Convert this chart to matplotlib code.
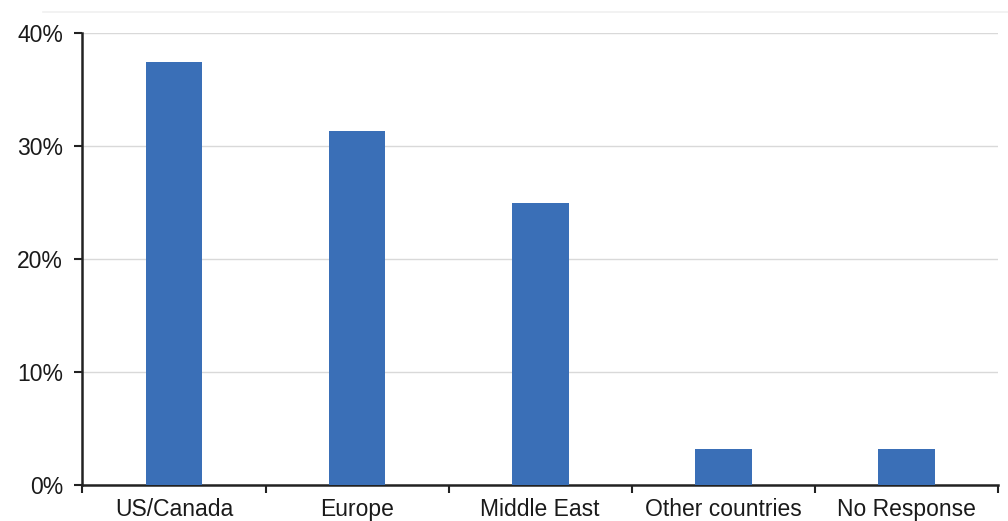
import matplotlib
matplotlib.use("Agg")
import matplotlib.pyplot as plt
from matplotlib.lines import Line2D
from matplotlib.ticker import FuncFormatter, FixedLocator

categories = ["US/Canada", "Europe", "Middle East", "Other countries", "No Response"]
shares = [37.4, 31.3, 25.0, 3.2, 3.2]
y_ticks = [0, 10, 20, 30, 40]

plt.rcParams["font.family"] = ["Liberation Sans", "DejaVu Sans"]

fig = plt.figure(figsize=(10.08, 5.21), dpi=100)
ax = fig.add_axes([0.0818, 0.069, 0.9082, 0.8677])

# faint frame line along the top of the chart area
fig.add_artist(Line2D([0.043, 1.0], [0.977, 0.977], color="#f0f0f0", linewidth=1.2))

x = list(range(len(categories)))
ax.bar(x, shares, width=0.31, color="#3A6FB7", zorder=3)

ax.set_xlim(-0.5, len(categories) - 0.5)
ax.set_ylim(0, 40)
ax.set_yticks(y_ticks)
ax.yaxis.set_major_formatter(FuncFormatter(lambda v, _: f"{v:.0f}%"))
ax.grid(axis="y", color="#d9d9d9", linewidth=1, zorder=0)

ax.set_xticks(x)
ax.set_xticklabels(categories, fontsize=16.5, color="#1a1a1a")
ax.xaxis.set_minor_locator(FixedLocator([i - 0.5 for i in range(len(categories) + 1)]))
ax.tick_params(axis="x", which="major", length=0, pad=9)
ax.tick_params(axis="x", which="minor", length=6, width=1.5, color="#222222", direction="out")
ax.tick_params(axis="y", length=6, width=1.5, color="#222222", labelsize=16.5, labelcolor="#1a1a1a", pad=8)

for side in ("top", "right"):
    ax.spines[side].set_visible(False)
for side in ("left", "bottom"):
    ax.spines[side].set_linewidth(1.8)
    ax.spines[side].set_color("#222222")

fig.savefig("out.png", dpi=100)
